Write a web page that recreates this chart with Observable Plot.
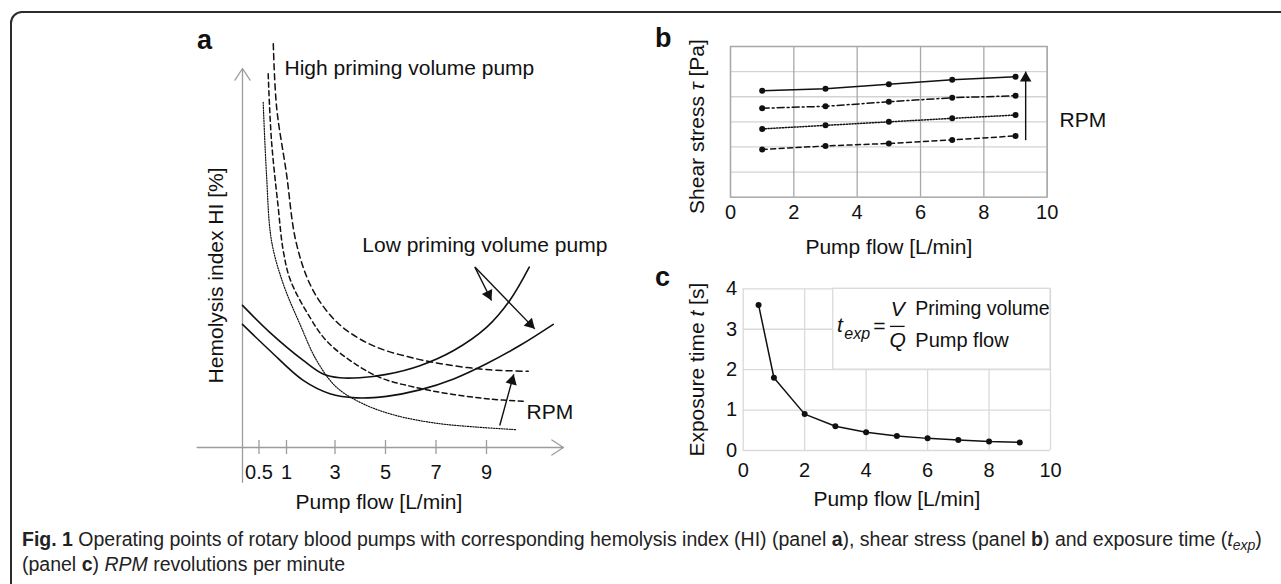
<!DOCTYPE html>
<html lang="en">
<head>
<meta charset="utf-8">
<title>Fig. 1 Operating points of rotary blood pumps</title>
<script src="https://cdn.jsdelivr.net/npm/d3@7"></script>
<script src="https://cdn.jsdelivr.net/npm/@observablehq/plot@0.6"></script>
<style>
  html, body { margin: 0; padding: 0; background: #fff; }
  body { position: relative; width: 1281px; height: 584px; overflow: hidden;
         font-family: "Liberation Sans", Arial, Helvetica, sans-serif; color: #111; }
  #frame { position: absolute; left: 10px; top: 11px; width: 1320px; height: 640px;
           border: 2px solid #2b2b2b; border-radius: 12px; box-sizing: border-box; }
  .panel { position: absolute; }
  .panel svg { display: block; }
  .letter { position: absolute; font-weight: bold; font-size: 27px; line-height: 27px; color: #111; }
  #caption { position: absolute; left: 22px; top: 527px; font-size: 17px; line-height: 25px;
             white-space: nowrap; color: #222; }
  #caption sub { font-size: 0.72em; line-height: 0; vertical-align: -0.3em; }
</style>
</head>
<body>
<div id="frame"></div>
<div id="panelA" class="panel" style="left:180px;top:20px"></div>
<div id="panelB" class="panel" style="left:640px;top:20px"></div>
<div id="panelC" class="panel" style="left:640px;top:260px"></div>
<div class="letter" style="left:197px;top:27px">a</div>
<div class="letter" style="left:655px;top:25px">b</div>
<div class="letter" style="left:655px;top:264px">c</div>
<div id="caption"><span id="cap1"><b>Fig. 1</b> Operating points of rotary blood pumps with corresponding hemolysis index (HI) (panel <b>a</b>), shear stress (panel <b>b</b>) and exposure time (<i>t</i><sub><i>exp</i></sub>)</span><br><span id="cap2">(panel <b>c</b>) <i>RPM</i> revolutions per minute</span></div>
<script>
// ---------------- Panel a: schematic hemolysis index vs pump flow ----------------
const aTickFlow = [0.5, 1, 3, 5, 7, 9];
// High priming volume pump (dashed / dotted curves)
const aHighOuterFlow = [0.76, 0.82, 1.0, 1.38, 1.96, 2.65, 3.46, 4.64, 6.23, 7.68, 9.13, 10.67];
const aHighOuterHI   = [106.5, 89.8, 72.2, 54.6, 43.2, 36.1, 30.9, 26.5, 23.4, 21.6, 20.5, 20.1];
const aHighInnerFlow = [0.667, 0.727, 0.849, 0.94, 1.165, 1.96, 2.64, 3.59, 4.77, 6.23, 7.68, 9.13, 10.47];
const aHighInnerHI   = [98.6, 81.0, 63.4, 52.0, 44.1, 34.4, 28.2, 23.0, 18.5, 15.8, 14.0, 12.8, 12.2];
const aDottedFlow    = [0.576, 0.636, 0.727, 0.94, 1.55, 2.24, 3.06, 4.12, 5.44, 7.02, 8.60, 10.2];
const aDottedHI      = [91.1, 72.2, 54.6, 43.2, 32.6, 23.0, 15.9, 11.5, 8.4, 6.4, 5.4, 4.7];
// Low priming volume pump (solid curves)
const aLowUpperFlow  = [0, 0.696, 1.69, 2.51, 3.19, 3.98, 5.04, 6.36, 7.70, 9.0, 9.93, 10.71];
const aLowUpperHI    = [37.5, 30.4, 23.0, 19.4, 18.4, 18.4, 19.3, 21.6, 25.6, 31.7, 38.8, 47.6];
const aLowLowerFlow  = [0, 0.696, 1.69, 2.79, 3.85, 5.04, 6.36, 7.70, 9.0, 10.33, 11.67];
const aLowLowerHI    = [32.5, 25.6, 17.7, 14.2, 13.1, 13.5, 15.2, 18.1, 22.1, 26.9, 32.5];
// annotation arrows (flow, HI)
const aArrows = [
  {x1: 8.54, y1: 47.6, x2: 9.2,   y2: 38.8},
  {x1: 8.54, y1: 47.6, x2: 10.93, y2: 31.3},
  {x1: 9.53, y1: 5.8,  x2: 10.09, y2: 19.3}
];

// ---------------- Panel b: shear stress vs pump flow ----------------
const bFlow = [1, 3, 5, 7, 9];
const bTickFlow = [0, 2, 4, 6, 8, 10];
const bGridStress = [0, 1, 2, 3, 4, 5, 6];
const bStressSolid   = [4.24, 4.32, 4.50, 4.68, 4.80];
const bStressDashDot = [3.54, 3.62, 3.80, 3.96, 4.04];
const bStressDotted  = [2.72, 2.86, 3.00, 3.14, 3.27];
const bStressDashed  = [1.90, 2.04, 2.14, 2.28, 2.44];
const bArrows = [{x1: 9.32, y1: 2.27, x2: 9.32, y2: 5.0}];

// ---------------- Panel c: exposure time vs pump flow ----------------
const cFlow = [0.5, 1, 2, 3, 4, 5, 6, 7, 8, 9];
const cTime = [3.6, 1.8, 0.9, 0.6, 0.45, 0.36, 0.3, 0.26, 0.22, 0.2];
const cTickFlow = [0, 2, 4, 6, 8, 10];
const cTickTime = [0, 1, 2, 3, 4];

// ---------------- helpers ----------------
const ink = "#111";
const font = "'Liberation Sans', Arial, Helvetica, sans-serif";
const svgStyle = {fontFamily: font, fontSize: "21px", color: ink, background: "transparent", overflow: "visible"};

function arrowMarks(list, sx, sy, len) {
  const marks = [Plot.link(list, {x1: "x1", y1: "y1", x2: "x2", y2: "y2", stroke: ink, strokeWidth: 1.4})];
  const h = len / 3;
  const r = Math.sqrt(h * h * 3 * Math.sqrt(3) / Math.PI);
  for (const a of list) {
    const dx = sx(a.x2) - sx(a.x1), dy = sy(a.y2) - sy(a.y1);
    const d = Math.hypot(dx, dy), ux = dx / d, uy = dy / d;
    marks.push(Plot.dot([a], {x: "x2", y: "y2", symbol: "triangle", r,
      rotate: Math.atan2(ux, -uy) * 180 / Math.PI, fill: ink, stroke: "none",
      dx: -ux * 2 * h, dy: -uy * 2 * h}));
  }
  return marks;
}

function italicize(svg, full, parts) {
  for (const t of svg.querySelectorAll("text")) {
    if (t.textContent === full) {
      t.textContent = "";
      for (const [s, it] of parts) {
        const ts = document.createElementNS("http://www.w3.org/2000/svg", "tspan");
        ts.textContent = s;
        if (it) ts.setAttribute("font-style", "italic");
        t.appendChild(ts);
      }
    }
  }
}

// ---------------- Panel a ----------------
const xA = {domain: [0, 0.5, 1, 3, 9, 12], range: [62, 78.5, 106, 154.5, 306, 381]};
const yA = {domain: [0, 100], range: [427, 48]};
const sxA = d3.scaleLinear(xA.domain, xA.range), syA = d3.scaleLinear(yA.domain, yA.range);
const axisGray = "#9d9d9d";
const curvesA = [
  {flow: aHighOuterFlow, hi: aHighOuterHI, dash: "6,4",     width: 1.5},
  {flow: aHighInnerFlow, hi: aHighInnerHI, dash: "5,3.5",   width: 1.5},
  {flow: aDottedFlow,    hi: aDottedHI,    dash: "1.2,1.4", width: 1.2},
  {flow: aLowUpperFlow,  hi: aLowUpperHI,  dash: null,      width: 1.6},
  {flow: aLowLowerFlow,  hi: aLowLowerHI,  dash: null,      width: 1.6}
];
const plotA = Plot.plot({
  width: 420, height: 500, margin: 0,
  x: {type: "linear", ...xA, axis: null},
  y: {type: "linear", ...yA, axis: null},
  style: svgStyle,
  marks: [
    Plot.arrow([{x1: -1.375, y1: 0, x2: 12.08, y2: 0}, {x1: 0, y1: -9.2, x2: 0, y2: 100}],
      {x1: "x1", y1: "y1", x2: "x2", y2: "y2", stroke: axisGray, strokeWidth: 1.3, headLength: 16, headAngle: 66}),
    Plot.ruleX(aTickFlow, {x: d => d, y1: -1.85, y2: 1.85, stroke: axisGray, strokeWidth: 1.3}),
    Plot.text(aTickFlow, {x: d => d, y: -8.2, text: d => String(d), lineAnchor: "bottom", fontSize: 20, fill: ink}),
    ...curvesA.map(c => Plot.line(c.flow.map((f, i) => [f, c.hi[i]]), {
      x: d => d[0], y: d => d[1], curve: "catmull-rom", stroke: ink,
      strokeWidth: c.width, strokeDasharray: c.dash ?? undefined})),
    ...arrowMarks(aArrows, sxA, syA, 10),
    Plot.text(["High priming volume pump"], {x: 0.964, y: 98.4, text: d => d, textAnchor: "start", lineAnchor: "bottom", fill: ink}),
    Plot.text(["Low priming volume pump"], {x: 4.08, y: 51.5, text: d => d, textAnchor: "start", lineAnchor: "bottom", fill: ink}),
    Plot.text(["RPM"], {x: 10.6, y: 7.6, text: d => d, textAnchor: "start", lineAnchor: "bottom", fill: ink}),
    Plot.text(["Pump flow [L/min]"], {x: 4.74, y: -16.1, text: d => d, textAnchor: "middle", lineAnchor: "bottom", fill: ink}),
    Plot.text(["Hemolysis index HI [%]"], {x: -0.78, y: 45.4, text: d => d, rotate: -90, textAnchor: "middle", fill: ink})
  ]
});
document.getElementById("panelA").appendChild(plotA);

// ---------------- Panel b ----------------
const mB = {left: 90, right: 53.3, top: 26, bottom: 73.3, width: 460, height: 250};
const sxB = d3.scaleLinear([0, 10], [mB.left, mB.width - mB.right]);
const syB = d3.scaleLinear([0, 6], [mB.height - mB.bottom, mB.top]);
const seriesB = [
  {values: bStressSolid,   dash: null},
  {values: bStressDashDot, dash: "7,3,2,3"},
  {values: bStressDotted,  dash: "1.3,1.6"},
  {values: bStressDashed,  dash: "5,3.5"}
];
const plotB = Plot.plot({
  width: mB.width, height: mB.height,
  marginLeft: mB.left, marginRight: mB.right, marginTop: mB.top, marginBottom: mB.bottom,
  x: {domain: [0, 10], axis: null},
  y: {domain: [0, 6], axis: null},
  style: svgStyle,
  marks: [
    Plot.ruleY(bGridStress, {stroke: "#d3d3d3", strokeWidth: 1.3}),
    Plot.ruleX(bTickFlow, {stroke: "#a8a8a8", strokeWidth: 1.3}),
    Plot.frame({stroke: "#a8a8a8", strokeWidth: 1.3}),
    ...seriesB.map(s => Plot.line(bFlow.map((f, i) => [f, s.values[i]]), {
      x: d => d[0], y: d => d[1], stroke: ink, strokeWidth: 1.5, strokeDasharray: s.dash ?? undefined})),
    ...seriesB.map(s => Plot.dot(bFlow.map((f, i) => [f, s.values[i]]), {
      x: d => d[0], y: d => d[1], r: 3, fill: ink, stroke: "none"})),
    ...arrowMarks(bArrows, sxB, syB, 10),
    Plot.text(["RPM"], {x: 10.39, y: 2.8, text: d => d, textAnchor: "start", lineAnchor: "bottom", fill: ink}),
    Plot.text(bTickFlow, {x: d => d, y: 0, dy: 21.3, text: d => String(d), lineAnchor: "bottom", fontSize: 20, fill: ink}),
    Plot.text(["Pump flow [L/min]"], {frameAnchor: "bottom", dy: 56.3, text: d => d, textAnchor: "middle", lineAnchor: "bottom", fill: ink}),
    Plot.text(["Shear stress τ [Pa]"], {frameAnchor: "left", dx: -33, dy: 4.7, rotate: -90, text: d => d, textAnchor: "middle", lineAnchor: "middle", fill: ink})
  ]
});
italicize(plotB, "Shear stress τ [Pa]", [["Shear stress ", false], ["τ", true], [" [Pa]", false]]);
document.getElementById("panelB").appendChild(plotB);

// ---------------- Panel c ----------------
const mC = {left: 102.7, right: 50, top: 28.3, bottom: 70, width: 460, height: 260};
const gridC = "#dadada";
const plotC = Plot.plot({
  width: mC.width, height: mC.height,
  marginLeft: mC.left, marginRight: mC.right, marginTop: mC.top, marginBottom: mC.bottom,
  x: {domain: [0, 10], axis: null},
  y: {domain: [0, 4], axis: null},
  style: svgStyle,
  marks: [
    Plot.ruleY(cTickTime, {stroke: gridC, strokeWidth: 1.3}),
    Plot.ruleX(cTickFlow, {stroke: gridC, strokeWidth: 1.3}),
    Plot.rect([0], {x1: 2.93, x2: 10, y1: 2, y2: 4, fill: "white", stroke: gridC, strokeWidth: 1.3}),
    Plot.line(cFlow.map((f, i) => [f, cTime[i]]), {x: d => d[0], y: d => d[1], stroke: ink, strokeWidth: 1.5}),
    Plot.dot(cFlow.map((f, i) => [f, cTime[i]]), {x: d => d[0], y: d => d[1], r: 3, fill: ink, stroke: "none"}),
    // formula t_exp = V / Q
    Plot.text(["t"], {x: 3.05, y: 2.94, text: d => d, textAnchor: "start", lineAnchor: "bottom", fontStyle: "italic", fill: ink}),
    Plot.text(["exp"], {x: 3.29, y: 2.77, text: d => d, textAnchor: "start", lineAnchor: "bottom", fontStyle: "italic", fontSize: 16, fill: ink}),
    Plot.text(["="], {x: 4.43, y: 3.07, text: d => d, textAnchor: "middle", fill: ink}),
    Plot.text(["V"], {x: 5.03, y: 3.33, text: d => d, textAnchor: "middle", lineAnchor: "bottom", fontStyle: "italic", fill: ink}),
    Plot.ruleY([3.07], {x1: 4.79, x2: 5.27, stroke: ink, strokeWidth: 1.3}),
    Plot.text(["Q"], {x: 5.03, y: 2.57, text: d => d, textAnchor: "middle", lineAnchor: "bottom", fontStyle: "italic", fill: ink}),
    Plot.text(["Priming volume"], {x: 5.6, y: 3.35, text: d => d, textAnchor: "start", lineAnchor: "bottom", fontSize: 19.5, fill: ink}),
    Plot.text(["Pump flow"], {x: 5.6, y: 2.55, text: d => d, textAnchor: "start", lineAnchor: "bottom", fontSize: 20, fill: ink}),
    // ticks and labels
    Plot.text(cTickTime, {frameAnchor: "left", y: d => d, dx: -6, text: d => String(d), textAnchor: "end", lineAnchor: "middle", fontSize: 20, fill: ink}),
    Plot.text(cTickFlow, {x: d => d, y: 0, dy: 26.7, text: d => String(d), lineAnchor: "bottom", fontSize: 20, fill: ink}),
    Plot.text(["Pump flow [L/min]"], {frameAnchor: "bottom", dy: 55, text: d => d, textAnchor: "middle", lineAnchor: "bottom", fill: ink}),
    Plot.text(["Exposure time t [s]"], {frameAnchor: "left", dx: -46, rotate: -90, text: d => d, textAnchor: "middle", lineAnchor: "middle", fill: ink})
  ]
});
italicize(plotC, "Exposure time t [s]", [["Exposure time ", false], ["t", true], [" [s]", false]]);
document.getElementById("panelC").appendChild(plotC);

// ---------------- caption sizing ----------------
(function fitCaption() {
  const cap = document.getElementById("caption");
  const w = document.getElementById("cap1").getBoundingClientRect().width;
  const target = 1240;
  const fs = 17 * target / w;
  cap.style.fontSize = fs.toFixed(2) + "px";
})();
</script>
</body>
</html>
